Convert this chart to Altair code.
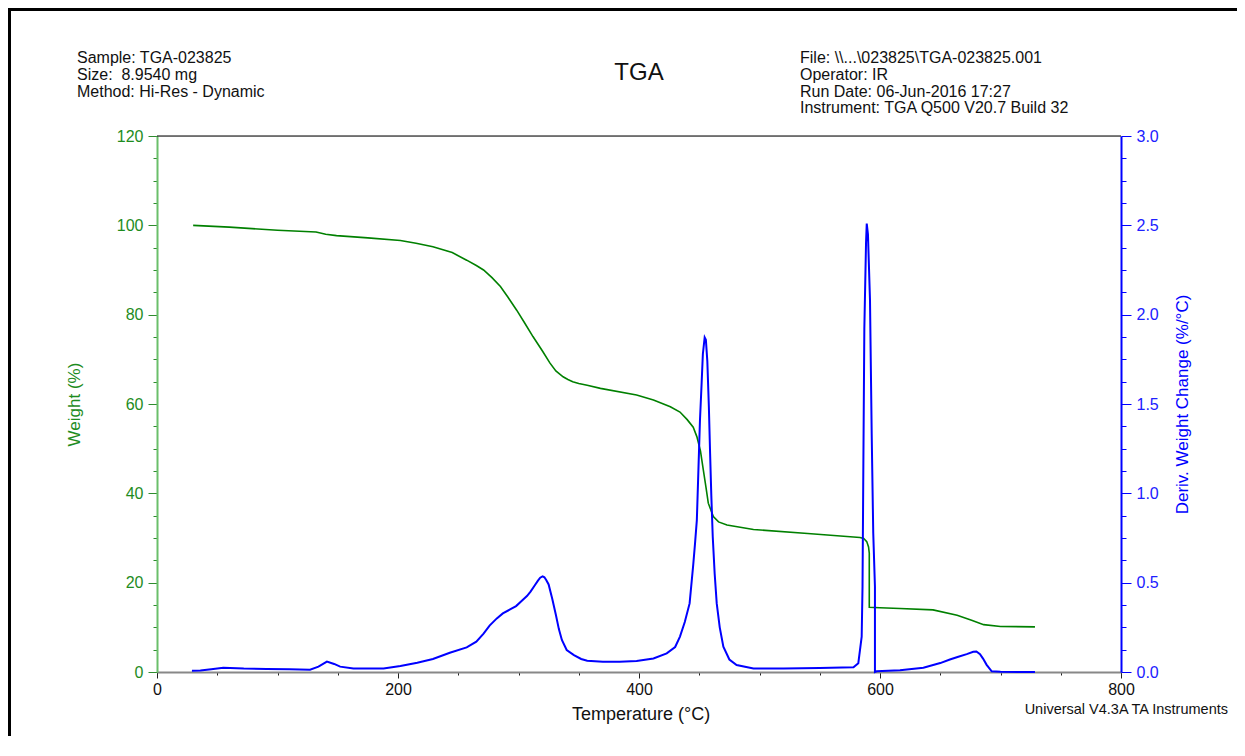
import altair as alt
import pandas as pd

# ---- data ----
temp_w = [30, 60, 100, 132, 140, 149, 175, 202, 215, 229, 245, 257, 265, 271, 278, 285, 291, 298.5,
          305, 312, 320, 326, 331, 337, 341, 345, 350, 357, 368, 398, 412, 426, 434, 440, 445, 448, 451,
          453.4, 455.5, 457.5, 461.7, 466, 473, 495, 540, 583.4, 586.5, 589, 590.5, 591.1, 591.1, 600,
          616.6, 644, 664, 676, 686, 700, 728.6]
weight = [100, 99.6, 98.9, 98.5, 98.0, 97.7, 97.2, 96.6, 96.0, 95.2, 93.9, 92.2, 91.0, 90.0, 88.3,
          86.3, 84.0, 81.0, 78.2, 75.1, 71.8, 69.2, 67.4, 66.1, 65.5, 65.0, 64.6, 64.2, 63.5, 62.0, 60.9,
          59.4, 58.2, 56.5, 54.8, 52.7, 49.5, 45.2, 41.5, 37.8, 34.8, 33.6, 32.9, 31.9, 31.0, 30.1, 29.9,
          29.2, 28.0, 26.6, 14.5, 14.4, 14.2, 13.9, 12.7, 11.6, 10.6, 10.2, 10.1]

temp_d = [29, 36, 45, 55, 72, 91, 110, 127, 134, 141, 147, 152, 163, 188, 202, 216, 229, 243, 257, 265,
          271, 276, 282, 287, 293, 298, 303, 307, 310, 313, 316, 318, 320, 321.5, 323, 325, 328, 331,
          333.5, 336, 340, 346, 352, 357, 370, 384, 398, 412, 423, 430, 434, 438, 442, 445, 446.5, 448,
          449.3, 450.6, 452, 453, 454.5, 455.5, 456.7, 458, 459, 460, 461.2, 462.8, 464.5, 467, 470, 475,
          481, 495, 520, 550, 578, 582, 584.8, 585.5, 586.2, 587, 588.4, 589, 590, 591.7, 593.1, 594.4,
          595.8, 595.8, 597.2, 616.6, 636, 650, 658, 665, 672, 677.4, 680, 683, 685.5, 688.5, 692.7, 700,
          728.6]
deriv = [0.007, 0.008, 0.015, 0.024, 0.019, 0.017, 0.015, 0.013, 0.03, 0.058, 0.045, 0.03, 0.02, 0.02,
         0.034, 0.052, 0.073, 0.108, 0.138, 0.17, 0.215, 0.26, 0.3, 0.328, 0.35, 0.369, 0.4, 0.425, 0.45,
         0.48, 0.51, 0.528, 0.535, 0.53, 0.515, 0.49, 0.41, 0.32, 0.24, 0.179, 0.123, 0.095, 0.073, 0.063,
         0.058, 0.058, 0.062, 0.076, 0.104, 0.14, 0.198, 0.28, 0.384, 0.6, 0.72, 0.85, 1.13, 1.41, 1.62,
         1.78, 1.873, 1.86, 1.74, 1.48, 1.224, 0.99, 0.757, 0.55, 0.384, 0.25, 0.142, 0.07, 0.039, 0.02,
         0.02, 0.022, 0.026, 0.049, 0.198, 0.48, 1.168, 1.92, 2.4, 2.51, 2.45, 2.08, 1.336, 0.776, 0.477,
         0.0, 0.004, 0.01, 0.024, 0.05, 0.07, 0.085, 0.1, 0.113, 0.115, 0.1, 0.075, 0.04, 0.004, 0.001, 0.0]

x_ticks = list(range(0, 801, 50))
w_ticks = list(range(0, 121, 5))
d_ticks = [i * 0.125 for i in range(25)]

left_header = ["Sample: TGA-023825", "Size: \u00a08.9540 mg", "Method: Hi-Res - Dynamic"]
right_header = [r"File: \\...\023825\TGA-023825.001", "Operator: IR",
                "Run Date: 06-Jun-2016 17:27", "Instrument: TGA Q500 V20.7 Build 32"]
chart_title = "TGA"
footer = "Universal V4.3A TA Instruments"

FONT = "Liberation Sans"
W, H = 964, 536
GREEN = "#008000"
BLUE = "#0000ff"

wdf = pd.DataFrame({"T": temp_w, "W": weight, "i": range(len(temp_w))})
ddf = pd.DataFrame({"T": temp_d, "D": deriv, "i": range(len(temp_d))})

x_scale = alt.Scale(domain=[0, 800], nice=False, zero=False)

x_axis = alt.Axis(
    values=x_ticks,
    labelExpr="datum.value % 200 === 0 ? datum.label : ''",
    tickSize={"condition": {"test": "datum.value % 200 === 0", "value": 6}, "value": 3},
    tickColor="#222222", domainColor="#888888", domainWidth=2,
    labelColor="#111111", labelFontSize=16, labelFont=FONT, labelPadding=3,
    labelFlush=False, labelOverlap=False, grid=False,
    title="Temperature (°C)", titleFont=FONT, titleFontSize=18, titleFontWeight="normal",
    titleColor="#111111", titleX=483.5, titleY=47, titleBaseline="alphabetic", titleAlign="center",
)

w_axis = alt.Axis(
    orient="left", values=w_ticks,
    labelExpr="datum.value % 20 === 0 ? datum.label : ''",
    tickSize={"condition": {"test": "datum.value % 20 === 0", "value": 9}, "value": 4},
    tickColor="#2e8b2e", domainColor="#6abf6a", domainWidth=2,
    labelColor="#1e8c1e", labelFontSize=16, labelFont=FONT, labelPadding=5,
    labelOverlap=False, grid=False,
    title="Weight (%)", titleFont=FONT, titleFontSize=17, titleFontWeight="normal",
    titleColor="#1e8c1e", titleX=-83, titleY=268, titleAngle=270,
    titleBaseline="middle", titleAlign="center",
)

d_axis = alt.Axis(
    orient="right", values=d_ticks,
    labelExpr="datum.value % 0.5 === 0 ? format(datum.value, '.1f') : ''",
    tickSize={"condition": {"test": "datum.value % 0.5 === 0", "value": 10}, "value": 5},
    tickColor=BLUE, domainColor=BLUE, domainWidth=2,
    labelColor="#2020ff", labelFontSize=16, labelFont=FONT, labelPadding=5,
    labelOverlap=False, grid=False,
    title="Deriv. Weight Change (%/°C)", titleFont=FONT, titleFontSize=17, titleFontWeight="normal",
    titleColor=BLUE, titleX=61, titleY=268, titleAngle=270,
    titleBaseline="middle", titleAlign="center",
)

weight_line = alt.Chart(wdf).mark_line(color=GREEN, strokeWidth=1.6).encode(
    x=alt.X("T:Q", scale=x_scale, axis=x_axis),
    y=alt.Y("W:Q", scale=alt.Scale(domain=[0, 120], nice=False, zero=False), axis=w_axis),
    order="i:Q",
)

deriv_line = alt.Chart(ddf).mark_line(color=BLUE, strokeWidth=2).encode(
    x=alt.X("T:Q", scale=x_scale, axis=x_axis),
    y=alt.Y("D:Q", scale=alt.Scale(domain=[0, 3], nice=False, zero=False), axis=d_axis),
    order="i:Q",
)

one = pd.DataFrame({"k": [0]})


def text_layer(txt, x, y, size, align="left", color="#111111"):
    return alt.Chart(one).mark_text(
        font=FONT, fontSize=size, align=align, baseline="alphabetic", color=color
    ).encode(x=alt.value(x), y=alt.value(y), text=alt.value(txt))


layers = [weight_line, deriv_line]

# top frame line of plot
layers.append(alt.Chart(one).mark_rect(color="black").encode(
    x=alt.value(0), x2=alt.value(W), y=alt.value(-0.5), y2=alt.value(0.5)))
# outer page border: a stroked frame whose right and bottom sides fall outside the page
layers.append(alt.Chart(one).mark_rect(fill="transparent", stroke="black", strokeWidth=3).encode(
    x=alt.value(-147.5), x2=alt.value(1200), y=alt.value(-126.5), y2=alt.value(H + 200)))

hdr_base = [-72.7, -56, -39.3, -22.6]
for k, line in enumerate(left_header):
    layers.append(text_layer(line, -80, hdr_base[k], 16))
for k, line in enumerate(right_header):
    layers.append(text_layer(line, 643, hdr_base[k], 16))
layers.append(text_layer(chart_title, 482, -56, 24, align="center"))
layers.append(text_layer(footer, 1071, 578, 14.5, align="right"))

chart = alt.layer(*layers).resolve_scale(y="independent").properties(
    width=W, height=H,
    autosize=alt.AutoSizeParams(type="none"),
    padding={"left": 149, "top": 128, "right": 116, "bottom": 64},
).configure_view(stroke=None).configure(font=FONT)

chart.save("out.html", embed_options={"renderer": "svg", "actions": False})
